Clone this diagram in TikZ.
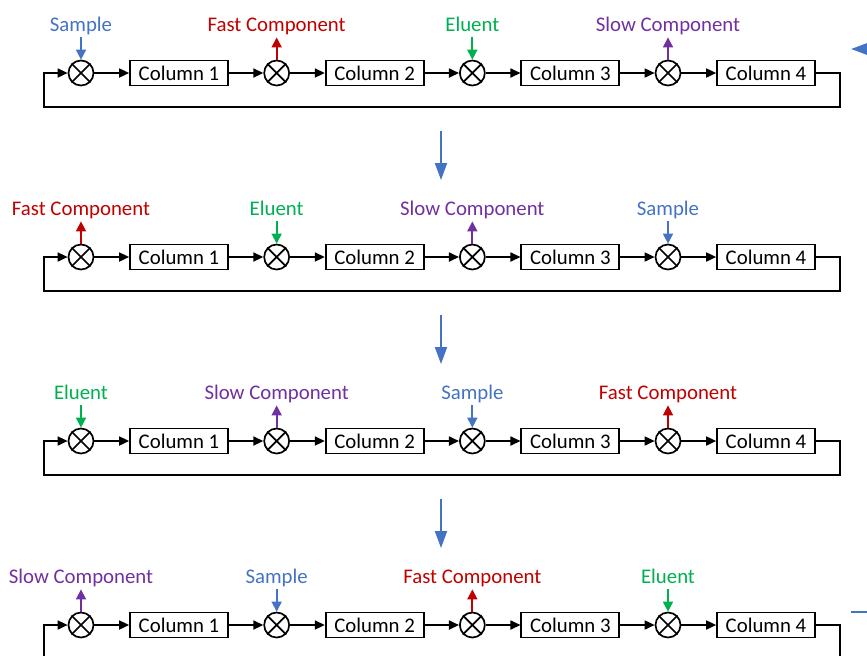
\documentclass[tikz,border=0pt]{standalone}
\usepackage{fontspec}
\setmainfont{Carlito}
\usetikzlibrary{arrows.meta,calc}
\definecolor{cblue}{HTML}{4472C4}
\definecolor{cred}{HTML}{C00000}
\definecolor{cgreen}{HTML}{00B050}
\definecolor{cpurple}{HTML}{7030A0}
\begin{document}
\begin{tikzpicture}[x=0.5pt,y=-0.5pt,
  every node/.style={font=\fontsize{10.4}{12}\selectfont},
  mixer/.style={circle,draw,line width=0.85pt,minimum size=12.5pt,inner sep=0pt},
  colbox/.style={draw,line width=0.85pt,minimum width=49pt,minimum height=12.5pt,inner sep=0pt},
  lab/.style={inner sep=0.5pt,text height=7pt,text depth=2pt},
  flow/.style={line width=0.85pt,-{Triangle[length=5pt,width=4.5pt]}},
  tap/.style={line width=0.85pt,-{Triangle[length=5pt,width=5pt]}},
  stage/.style={cblue,line width=1pt,-{Triangle[length=8.5pt,width=6pt]}}]
\useasboundingbox (0,0) rectangle (867,655);
\clip (0,0) rectangle (867,655);

% four switching states of the column ring
\foreach \r/\y/\L in {
  1/73/{Sample/cblue/in,Fast Component/cred/out,Eluent/cgreen/in,Slow Component/cpurple/out},
  2/257/{Fast Component/cred/out,Eluent/cgreen/in,Slow Component/cpurple/out,Sample/cblue/in},
  3/441/{Eluent/cgreen/in,Slow Component/cpurple/out,Sample/cblue/in,Fast Component/cred/out},
  4/625/{Slow Component/cpurple/out,Sample/cblue/in,Fast Component/cred/out,Eluent/cgreen/in}} {
  \foreach \t/\c/\d [count=\i] in \L {
    \pgfmathsetmacro{\mx}{81+195.67*(\i-1)}
    \pgfmathsetmacro{\bx}{179+195.67*(\i-1)}
    \node[mixer] (m\r\i) at (\mx,\y) {};
    \draw[line width=0.85pt] (m\r\i.north east) -- (m\r\i.south west)
                             (m\r\i.north west) -- (m\r\i.south east);
    \node[colbox] (c\r\i) at (\bx,\y) {Column \i};
    \node[lab,text=\c] (l\r\i) at (\mx,\y-47) {\t};
    \draw[flow] (m\r\i) -- (c\r\i);
    \ifnum\pdfstrcmp{\d}{in}=0
      \draw[tap,\c,shorten <=0.5pt] (l\r\i.south) -- (m\r\i.north);
    \else
      \draw[tap,\c,shorten >=0.5pt] (m\r\i.north) -- (l\r\i.south);
    \fi
  }
  \foreach \i/\j in {1/2,2/3,3/4}
    \draw[flow] (c\r\i) -- (m\r\j);
  % recycle line from column 4 back to the first junction
  \draw[flow] (c\r4.east) -- ++(24,0) -- ++(0,34)
     -| ($(m\r1.west)+(-24,0)$) -- (m\r1.west);
}

% step arrows between states
\foreach \r/\y in {1/73,2/257,3/441} {
  \coordinate (s\r) at (441,\y+58);
  \coordinate (e\r) at (441,\y+107);
  \draw[stage] (s\r) -- (e\r);
}

% return arrow from the last state to the first
\coordinate (rb) at (851,612);
\coordinate (rt) at (851,49);
\draw[stage] (rb) -- ++(60,0) |- (rt);
\end{tikzpicture}
\end{document}
